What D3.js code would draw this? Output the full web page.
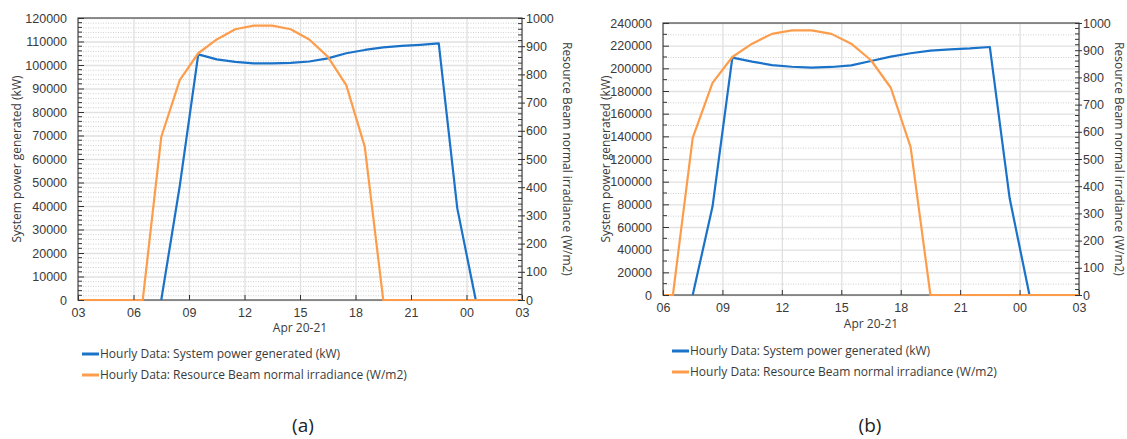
<!DOCTYPE html>
<html>
<head>
<meta charset="utf-8">
<script src="https://cdn.jsdelivr.net/npm/d3@7/dist/d3.min.js"></script>
<style>
  body { margin: 0; background: #fff; }
  svg { display: block; font-family: "Open Sans", "Noto Sans", sans-serif; }
  .tick-label { fill: #3a3a3a; font-size: 12.5px; }
  .title { fill: #3a3a3a; font-size: 12px; }
</style>
</head>
<body>
<script>
// hourly samples (hour of day, Apr 20 -> Apr 21), timestamps at half hours
var hours = [2.5, 3.5, 4.5, 5.5, 6.5, 7.5, 8.5, 9.5, 10.5, 11.5, 12.5, 13.5, 14.5,
             15.5, 16.5, 17.5, 18.5, 19.5, 20.5, 21.5, 22.5, 23.5, 24.5, 25.5, 26.5, 27.5]

// Resource Beam normal irradiance (W/m2), same in both panels
var irradiance = [0, 0, 0, 0, 0, 578, 780, 875, 924, 960, 973, 973, 960,
                  924, 863, 762, 544, 0, 0, 0, 0, 0, 0, 0, 0, 0]

// System power generated (kW), panel (a); null = night, not drawn (below the axis)
var powerA = [null, null, null, null, null, 0, 48500, 104500, 102400, 101300, 100700, 100700, 100900,
              101500, 102800, 105000, 106400, 107500, 108100, 108600, 109200, 39100, 0, null, null, null]

// System power generated (kW), panel (b)
var powerB = [null, null, null, null, null, 0, 78000, 209500, 205900, 202900, 201400, 200600, 201200,
              202600, 206500, 210300, 213300, 215600, 216800, 217600, 218800, 85300, 0, null, null, null]

var xTicksA = [3, 6, 9, 12, 15, 18, 21, 24, 27]
var xTicksB = [6, 9, 12, 15, 18, 21, 24, 27]
var rightTicks = [0, 100, 200, 300, 400, 500, 600, 700, 800, 900, 1000]

var seriesNames = ["Hourly Data: System power generated (kW)",
                   "Hourly Data: Resource Beam normal irradiance (W/m2)"]
var blue = "#1a72c9"
var orange = "#fd9d4c"

var W = 1127, H = 439
var svg = d3.select("body").append("svg").attr("width", W).attr("height", H)

function pad2(h) { h = h % 24; return (h < 10 ? "0" : "") + h }

function drawPanel(cfg) {
  var g = svg.append("g")
  var x = d3.scaleLinear().domain(cfg.xDomain).range([cfg.left, cfg.right])
  var yL = d3.scaleLinear().domain([0, cfg.yMax]).range([cfg.bottom, cfg.top])
  var yR = d3.scaleLinear().domain([0, 1000]).range([cfg.bottom, cfg.top])

  var yMinor = d3.range(0, cfg.yMax + 1, cfg.yMinorStep)
  var yMajor = d3.range(0, cfg.yMax + 1, cfg.yStep)
  var rMinor = d3.range(0, 1001, 20)

  // minor dotted grid
  g.append("g").selectAll("line")
    .data(yMinor.filter(function (v) { return v % cfg.yStep !== 0 }))
    .enter().append("line")
      .attr("x1", cfg.left).attr("x2", cfg.right)
      .attr("y1", function (d) { return yL(d) + 0.5 })
      .attr("y2", function (d) { return yL(d) + 0.5 })
      .attr("stroke", "#cfcfcf").attr("stroke-dasharray", "1,1.5")

  // major grid
  g.append("g").selectAll("line")
    .data(yMajor)
    .enter().append("line")
      .attr("x1", cfg.left).attr("x2", cfg.right)
      .attr("y1", function (d) { return yL(d) + 0.5 })
      .attr("y2", function (d) { return yL(d) + 0.5 })
      .attr("stroke", "#e1e1e1").attr("stroke-width", 1.3)
  g.append("g").selectAll("line")
    .data(cfg.xTicks)
    .enter().append("line")
      .attr("x1", function (d) { return x(d) + 0.5 })
      .attr("x2", function (d) { return x(d) + 0.5 })
      .attr("y1", cfg.top).attr("y2", cfg.bottom)
      .attr("stroke", "#e1e1e1").attr("stroke-width", 1.3)

  // frame
  g.append("rect")
    .attr("x", cfg.left).attr("y", cfg.top)
    .attr("width", cfg.right - cfg.left).attr("height", cfg.bottom - cfg.top)
    .attr("fill", "none").attr("stroke", "#4a4a4a").attr("stroke-width", 1.2)

  // lines, clipped to the plot
  var clipId = "clip" + cfg.name
  svg.append("clipPath").attr("id", clipId).append("rect")
    .attr("x", cfg.left).attr("y", cfg.top - 2)
    .attr("width", cfg.right - cfg.left).attr("height", cfg.bottom - cfg.top + 4)

  var linePower = d3.line()
    .defined(function (d) { return d !== null })
    .x(function (d, i) { return x(hours[i]) })
    .y(function (d) { return yL(d) })
  var lineIrr = d3.line()
    .x(function (d, i) { return x(hours[i]) })
    .y(function (d) { return yR(d) })

  var lines = g.append("g").attr("clip-path", "url(#" + clipId + ")")
  lines.append("path").datum(cfg.power)
    .attr("d", linePower).attr("fill", "none")
    .attr("stroke", blue).attr("stroke-width", 2.2).attr("stroke-linejoin", "round")
  lines.append("path").datum(irradiance)
    .attr("d", lineIrr).attr("fill", "none")
    .attr("stroke", orange).attr("stroke-width", 2.2).attr("stroke-linejoin", "round")

  // left axis: inner ticks
  var leftAxis = d3.axisLeft(yL).tickValues(yMajor).tickFormat(d3.format("d"))
    .tickSizeInner(-6).tickSizeOuter(0).tickPadding(11)
  var la = g.append("g").attr("transform", "translate(" + cfg.left + ",0)").call(leftAxis)
  la.select(".domain").remove()
  la.selectAll("line").attr("stroke", "#333")
  la.selectAll("text").attr("class", "tick-label").attr("font-size", null).attr("font-family", null)
  g.append("g").selectAll("line")
    .data(yMinor.filter(function (v) { return v % cfg.yStep !== 0 }))
    .enter().append("line")
      .attr("x1", cfg.left).attr("x2", cfg.left + 4)
      .attr("y1", function (d) { return yL(d) }).attr("y2", function (d) { return yL(d) })
      .attr("stroke", "#333")

  // right axis
  var rightAxis = d3.axisRight(yR).tickValues(rightTicks).tickFormat(d3.format("d"))
    .tickSizeInner(3).tickSizeOuter(0).tickPadding(1)
  var ra = g.append("g").attr("transform", "translate(" + cfg.right + ",0)").call(rightAxis)
  ra.select(".domain").remove()
  ra.selectAll("line").attr("stroke", "#333").attr("x1", -4)
  ra.selectAll("text").attr("class", "tick-label").attr("font-size", null).attr("font-family", null)
  g.append("g").selectAll("line")
    .data(rMinor.filter(function (v) { return v % 100 !== 0 }))
    .enter().append("line")
      .attr("x1", cfg.right - 4).attr("x2", cfg.right)
      .attr("y1", function (d) { return yR(d) }).attr("y2", function (d) { return yR(d) })
      .attr("stroke", "#333")

  // bottom axis
  var bottomAxis = d3.axisBottom(x).tickValues(cfg.xTicks).tickFormat(pad2)
    .tickSizeInner(-5).tickSizeOuter(0).tickPadding(8)
  var ba = g.append("g").attr("transform", "translate(0," + cfg.bottom + ")").call(bottomAxis)
  ba.select(".domain").remove()
  ba.selectAll("line").attr("stroke", "#333")
  ba.selectAll("text").attr("class", "tick-label").attr("font-size", null).attr("font-family", null)

  // axis titles
  var cy = (cfg.top + cfg.bottom) / 2
  g.append("text").attr("class", "title")
    .attr("transform", "translate(" + cfg.leftTitleX + "," + cy + ") rotate(-90)")
    .attr("text-anchor", "middle").attr("dy", "0.35em")
    .text("System power generated (kW)")
  g.append("text").attr("class", "title")
    .attr("transform", "translate(" + cfg.rightTitleX + "," + cy + ") rotate(90)")
    .attr("text-anchor", "middle").attr("dy", "0.35em")
    .text("Resource Beam normal irradiance (W/m2)")
  g.append("text").attr("class", "title")
    .attr("x", (cfg.left + cfg.right) / 2).attr("y", cfg.dateY)
    .attr("text-anchor", "middle").attr("dy", "0.35em")
    .text("Apr 20-21")

  // legend
  var lg = g.append("g").attr("transform", "translate(" + cfg.legendX + "," + cfg.legendY + ")")
  var items = lg.selectAll("g").data([blue, orange]).enter().append("g")
    .attr("transform", function (d, i) { return "translate(0," + i * 21 + ")" })
  items.append("line").attr("x1", 0).attr("x2", 17).attr("y1", 0).attr("y2", 0)
    .attr("stroke", function (d) { return d }).attr("stroke-width", 3)
  items.append("text").attr("class", "title").attr("x", 18).attr("dy", "0.35em")
    .text(function (d, i) { return seriesNames[i] })

  // panel caption
  g.append("text")
    .attr("x", cfg.captionX).attr("y", 425).attr("dy", "0.35em")
    .attr("text-anchor", "middle").attr("fill", "#222").attr("font-size", "19px")
    .text(cfg.caption)
}

drawPanel({
  name: "a", left: 78, right: 522, top: 18, bottom: 300,
  xDomain: [3, 27], xTicks: xTicksA, yMax: 120000, yStep: 10000, yMinorStep: 2000,
  power: powerA, leftTitleX: 17, rightTitleX: 567, dateY: 328,
  legendX: 82, legendY: 354, captionX: 303, caption: "(a)"
})
drawPanel({
  name: "b", left: 663, right: 1079, top: 23, bottom: 295,
  xDomain: [6, 27], xTicks: xTicksB, yMax: 240000, yStep: 20000, yMinorStep: 10000,
  power: powerB, leftTitleX: 606, rightTitleX: 1119, dateY: 324,
  legendX: 672, legendY: 351, captionX: 870, caption: "(b)"
})
</script>
</body>
</html>
